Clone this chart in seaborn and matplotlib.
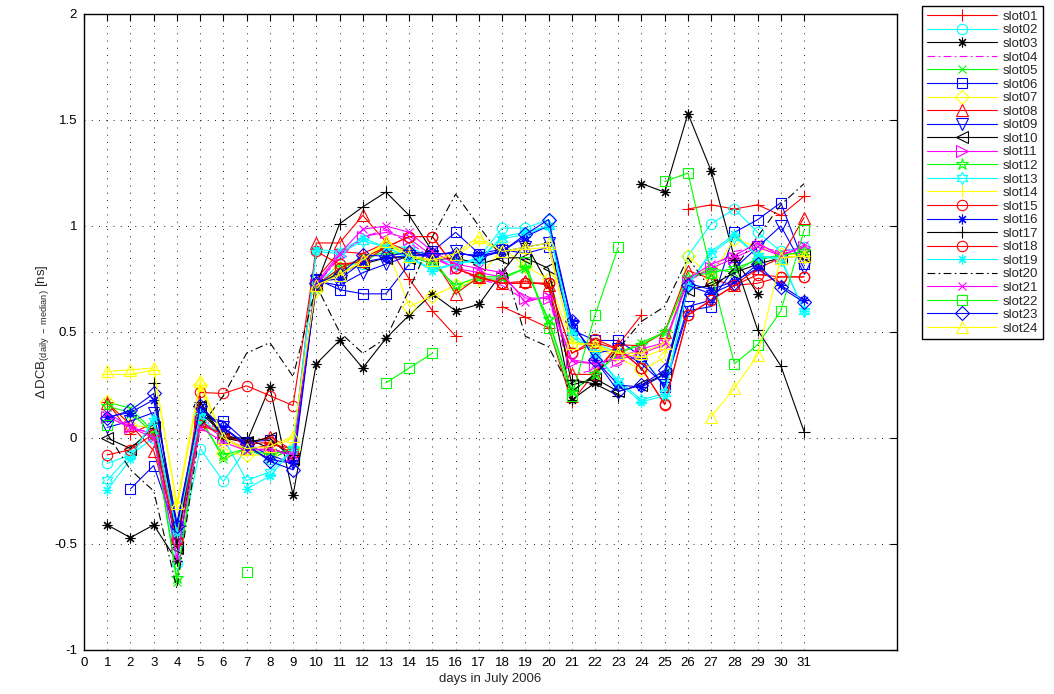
import numpy as np
import pandas as pd
import seaborn as sns
import matplotlib
matplotlib.use('Agg')
import matplotlib.pyplot as plt
from matplotlib.lines import Line2D

nan = np.nan
days = list(range(1, 32))

# DCB deviation per satellite slot, days 1..31 (nan = no value)
slot01 = [0.17, 0.02, 0.07, -0.46, 0.08, 0.00, -0.06, -0.03, -0.05, 0.75, 0.88, 0.87, 0.92, 0.75, 0.60, 0.48, nan, 0.62, 0.57, 0.52, 0.17, 0.31, 0.44, 0.58, nan, 1.08, 1.10, 1.08, 1.10, 1.05, 1.14]
slot02 = [-0.12, -0.08, 0.00, -0.59, -0.05, -0.205, -0.05, -0.10, -0.05, 0.72, 0.82, 0.82, 0.90, 0.90, 0.85, 0.82, 0.85, 0.99, 0.99, 1.03, 0.45, 0.45, 0.40, 0.38, 0.25, 0.86, 1.01, 1.08, 0.97, 0.88, 0.90]
slot03 = [-0.41, -0.47, -0.41, -0.58, 0.12, 0.02, -0.02, 0.24, -0.27, 0.35, 0.46, 0.33, 0.47, 0.58, 0.68, 0.60, 0.63, 0.78, 0.92, 0.72, 0.18, 0.26, nan, 1.20, 1.16, 1.53, 1.26, 0.85, 0.68, nan, 0.87]
slot04 = [0.10, 0.05, 0.02, -0.50, 0.10, 0.02, -0.04, -0.05, -0.10, 0.72, 0.85, 0.95, 0.98, 0.92, 0.85, 0.80, 0.75, 0.72, 0.65, 0.66, 0.30, 0.32, 0.34, 0.40, 0.45, 0.75, 0.80, 0.88, 0.90, 0.88, 0.90]
slot05 = [0.17, 0.14, 0.03, -0.68, 0.10, -0.10, -0.05, -0.10, -0.05, 0.70, 0.80, 0.85, 0.90, 0.88, 0.85, 0.70, 0.75, 0.75, 0.80, 0.55, 0.22, 0.30, 0.40, 0.45, 0.50, 0.75, 0.80, 0.78, 0.85, 0.86, 0.88]
slot06 = [nan, -0.24, -0.13, -0.45, 0.10, 0.08, -0.02, -0.01, -0.08, 0.75, 0.70, 0.68, 0.68, 0.82, 0.88, 0.97, 0.87, 0.89, 0.87, 0.90, 0.51, 0.46, 0.46, 0.385, 0.24, 0.60, 0.62, 0.97, 1.03, 1.11, 0.82]
slot07 = [0.17, 0.06, 0.05, -0.33, 0.25, -0.07, -0.08, -0.08, -0.05, 0.70, 0.80, 0.84, 0.91, 0.62, 0.67, 0.72, 0.75, 0.90, 0.81, 0.75, 0.45, 0.43, 0.38, 0.32, 0.38, 0.86, 0.76, 0.94, 0.90, 0.87, 0.86]
slot08 = [0.165, 0.063, -0.06, -0.45, 0.08, 0.015, -0.03, 0.007, -0.06, 0.92, 0.92, 1.05, 0.925, 0.88, 0.85, 0.68, 0.76, 0.73, 0.74, 0.72, 0.30, 0.30, 0.44, 0.435, 0.50, 0.79, 0.75, 0.72, 0.80, 0.85, 1.04]
slot09 = [0.05, 0.08, 0.12, -0.42, 0.13, 0.05, -0.03, -0.08, -0.12, 0.74, 0.72, 0.78, 0.82, 0.86, 0.86, 0.88, 0.85, 0.88, 0.90, 0.92, 0.53, 0.40, 0.42, 0.35, 0.25, 0.62, 0.65, 0.80, 0.90, 1.00, 0.80]
slot10 = [0.00, -0.05, 0.05, -0.52, 0.15, 0.00, -0.02, 0.00, -0.10, 0.72, 0.78, 0.82, 0.85, 0.85, 0.84, 0.85, 0.82, 0.85, 0.85, 0.80, 0.25, 0.28, 0.22, 0.25, 0.30, 0.70, 0.72, 0.78, 0.82, 0.85, 0.86]
slot11 = [0.10, 0.05, 0.02, -0.50, 0.08, 0.00, -0.05, -0.06, -0.08, 0.72, 0.86, 0.95, 0.97, 0.94, 0.86, 0.80, 0.78, 0.76, 0.66, 0.66, 0.36, 0.35, 0.37, 0.40, 0.44, 0.74, 0.80, 0.85, 0.90, 0.86, 0.90]
slot12 = [0.15, 0.12, 0.02, -0.66, 0.08, -0.08, -0.05, -0.08, -0.05, 0.72, 0.80, 0.84, 0.88, 0.86, 0.82, 0.72, 0.76, 0.76, 0.80, 0.56, 0.22, 0.30, 0.40, 0.44, 0.50, 0.76, 0.78, 0.80, 0.84, 0.86, 0.88]
slot13 = [-0.20, -0.08, 0.08, -0.45, 0.10, 0.00, -0.20, -0.16, -0.05, 0.88, 0.87, 0.93, 0.90, 0.85, 0.80, 0.82, 0.84, 0.94, 0.96, 1.00, 0.48, 0.40, 0.27, 0.18, 0.21, 0.72, 0.87, 0.95, 0.86, 0.84, 0.60]
slot14 = [0.30, 0.30, 0.32, -0.32, 0.25, 0.00, -0.06, -0.05, 0.00, 0.71, 0.77, 0.83, 0.92, 0.85, 0.84, 0.86, 0.93, 0.88, 0.89, 0.90, 0.45, 0.43, 0.40, 0.38, 0.42, nan, nan, nan, nan, 0.85, 0.86]
slot15 = [-0.08, -0.055, 0.02, -0.48, 0.06, 0.02, -0.03, -0.02, -0.07, 0.72, 0.80, 0.85, 0.90, 0.95, 0.95, 0.80, 0.76, 0.73, 0.73, 0.73, 0.40, 0.45, 0.42, 0.33, 0.16, 0.58, 0.65, 0.72, 0.73, 0.76, 0.76]
slot16 = [0.10, 0.12, 0.18, -0.40, 0.14, 0.05, -0.04, -0.10, -0.12, 0.74, 0.75, 0.83, 0.85, 0.86, 0.87, 0.87, 0.86, 0.88, 0.95, 1.00, 0.55, 0.37, 0.25, 0.24, 0.30, 0.73, 0.70, 0.74, 0.80, 0.72, 0.65]
slot17 = [nan, nan, 0.26, -0.50, 0.17, 0.00, 0.00, -0.05, -0.08, 0.72, 1.01, 1.09, 1.16, 1.05, 0.88, nan, nan, nan, nan, nan, 0.275, 0.255, 0.20, nan, nan, nan, nan, 0.84, 0.51, 0.34, 0.03]
slot18 = [nan, nan, nan, -0.48, 0.215, 0.21, 0.246, 0.20, 0.153, 0.88, 0.82, 0.83, 0.90, 0.95, 0.95, 0.80, 0.755, 0.73, 0.73, 0.73, 0.40, 0.466, 0.42, 0.33, 0.157, 0.58, 0.65, 0.72, 0.77, 0.76, 0.76]
slot19 = [-0.245, -0.10, 0.094, -0.45, 0.12, nan, -0.24, -0.18, -0.055, 0.889, 0.88, 0.943, 0.90, 0.85, 0.79, 0.82, 0.84, 0.95, 0.97, 1.00, 0.50, 0.40, 0.26, 0.17, 0.20, 0.72, 0.88, 0.96, 0.86, 0.85, 0.60]
slot20 = [0.02, -0.15, -0.25, -0.71, 0.05, 0.20, 0.40, 0.45, 0.29, 0.72, 0.50, 0.40, 0.47, 0.70, 0.95, 1.15, 1.00, 0.85, 0.48, 0.43, 0.22, 0.30, 0.42, 0.55, 0.62, 0.85, 0.70, 0.80, 0.95, 1.10, 1.20]
slot21 = [0.12, 0.05, 0.00, -0.566, 0.05, -0.02, -0.06, -0.05, -0.08, 0.73, 0.87, 0.985, 1.00, 0.97, 0.88, 0.82, 0.80, 0.78, 0.64, 0.67, 0.37, 0.35, 0.38, 0.42, 0.45, 0.75, 0.82, 0.86, 0.92, 0.86, 0.91]
slot22 = [0.06, nan, nan, nan, nan, nan, -0.63, nan, nan, nan, nan, nan, 0.26, 0.33, 0.40, nan, nan, nan, 0.83, 0.52, 0.20, 0.58, 0.90, nan, 1.21, 1.25, 0.78, 0.35, 0.44, 0.60, 0.98]
slot23 = [0.094, 0.13, 0.21, -0.417, 0.15, 0.047, -0.03, -0.11, -0.15, 0.73, 0.77, 0.864, 0.857, 0.876, 0.87, 0.87, 0.86, 0.88, 0.96, 1.03, 0.55, 0.37, 0.22, 0.25, 0.32, 0.72, 0.68, 0.73, 0.82, 0.71, 0.64]
slot24 = [0.314, 0.322, 0.33, -0.307, 0.267, 0.00, -0.05, -0.04, 0.008, 0.72, 0.77, 0.84, 0.93, 0.86, 0.84, 0.87, 0.95, 0.88, 0.90, 0.92, 0.45, 0.44, 0.40, 0.40, 0.45, nan, 0.10, 0.235, 0.39, 0.85, 0.86]

slot_values = [slot01, slot02, slot03, slot04, slot05, slot06, slot07, slot08,
               slot09, slot10, slot11, slot12, slot13, slot14, slot15, slot16,
               slot17, slot18, slot19, slot20, slot21, slot22, slot23, slot24]
names = [f'slot{i:02d}' for i in range(1, 25)]

# matlab-like line specs (pure rgb colours, not seaborn's colour codes)
R, C, K, M, G, B, Y = '#ff0000', '#00ffff', '#000000', '#ff00ff', '#00ff00', '#0000ff', '#ffff00'
AST = (8, 2, 0)      # asterisk
HEX = (6, 1, 0)      # hexagram
colors = [R, C, K, M, G, B, Y, R, B, K, M, G, C, Y, R, B, K, R, C, K, M, G, B, Y]
markers = ['+', 'o', AST, '', 'x', 's', 'D', '^', 'v', '<', '>', '*',
           HEX, '+', 'o', AST, '+', 'o', AST, '', 'x', 's', 'D', '^']
sizes = [8, 7.5, 7, 0, 6, 7, 7, 9, 9, 9, 9, 9,
         9, 8, 7.5, 7, 8, 7.5, 7, 0, 6, 7, 7, 9]
dashdot = (0, (7, 3, 1.5, 3))
lstyles = ['-'] * 24
lstyles[3] = dashdot
lstyles[19] = dashdot

# long table, new segment after every gap (like matlab's NaN breaks)
rows = []
for name, vals in zip(names, slot_values):
    seg = 0
    for d, v in zip(days, vals):
        if np.isnan(v):
            seg += 1
            continue
        rows.append((name, d, v, seg))
df = pd.DataFrame(rows, columns=['slot', 'day', 'value', 'seg'])

sns.set_theme(style='white', color_codes=False)
plt.rcParams['font.family'] = ['Liberation Sans', 'DejaVu Sans']
plt.rcParams['mathtext.fontset'] = 'custom'
plt.rcParams['mathtext.rm'] = 'Liberation Sans'
plt.rcParams['mathtext.it'] = 'Liberation Sans:italic'

fig = plt.figure(figsize=(10.54, 6.94), dpi=100)
ax = fig.add_axes([84 / 1054, 44 / 694, 813 / 1054, 636 / 694])

handles = []
for i, name in enumerate(names):
    m = markers[i] if markers[i] != '' else None
    sub = df[df['slot'] == name]
    style = dict(color=colors[i], linestyle=lstyles[i], linewidth=0.8,
                 marker=m, markersize=sizes[i], markerfacecolor='none',
                 markeredgecolor=colors[i], markeredgewidth=0.8)
    sns.lineplot(data=sub, x='day', y='value', units='seg', estimator=None,
                 sort=False, legend=False, ax=ax, **style)
    handles.append(Line2D([], [], **style))

ax.set_xlim(0, 35)
ax.set_ylim(-1, 2)
ax.set_xticks(range(0, 32))
ax.set_xticklabels([str(d) for d in range(0, 32)])
ax.set_yticks([-1, -0.5, 0, 0.5, 1, 1.5, 2])
ax.set_yticklabels(['-1', '-0.5', '0', '0.5', '1', '1.5', '2'])
ax.grid(True, color='k', linestyle=(0, (1.2, 7.5)), linewidth=0.6)
ax.tick_params(direction='in', top=True, right=True, length=5, width=0.8,
               labelsize=9.5, colors='k', pad=5)
for sp in ax.spines.values():
    sp.set_color('k')
    sp.set_linewidth(1.0)

ax.set_xlabel('days in July 2006', fontsize=9.5, labelpad=3)
ax.set_ylabel(r'$\Delta\,\mathrm{DCB}_{\mathrm{(daily\ -\ median)}}$ [ns]',
              fontsize=9.5, labelpad=2)

leg = fig.legend(handles, names, loc='upper left',
                 bbox_to_anchor=(922 / 1054, 1 - 6 / 694),
                 fontsize=9.5, handlelength=5.3, handletextpad=0.5,
                 labelspacing=0.1, borderpad=0.35, borderaxespad=0,
                 frameon=True, fancybox=False, framealpha=1)
leg.get_frame().set_edgecolor('k')
leg.get_frame().set_linewidth(1.0)

fig.savefig('out.png', dpi=100)
